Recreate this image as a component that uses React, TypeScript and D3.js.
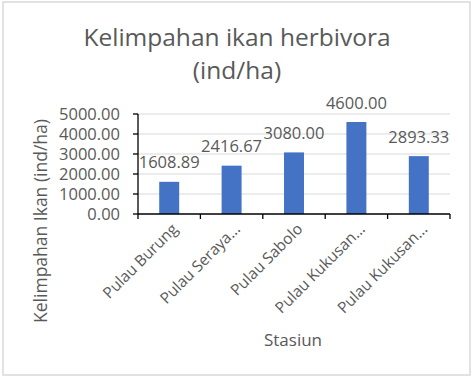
import React from "react";
import * as d3 from "d3";

const categories = ["Pulau Burung", "Pulau Seraya...", "Pulau Sabolo", "Pulau Kukusan...", "Pulau Kukusan..."];
const values = [1608.89, 2416.67, 3080.0, 4600.0, 2893.33];
const yTicks = [0, 1000, 2000, 3000, 4000, 5000];

const W = 474;
const H = 379;
const FONT = "'Open Sans', sans-serif";
const TEXT = "#595959";

export default function App() {
  const left = 138, right = 450, top = 114, bottom = 214;
  const x = d3.scaleBand<number>().domain(categories.map((_, i) => i)).range([left, right]).padding(0);
  const y = d3.scaleLinear().domain([0, 5000]).range([bottom, top]);
  const bw = x.bandwidth() * 0.32;
  const fmt = d3.format(".2f");
  const boundaries = d3.range(categories.length + 1).map((i) => left + i * x.step());

  return (
    <svg width={W} height={H} style={{ position: "absolute", left: 0, top: 0, background: "#fff" }} fontFamily={FONT}>
      <rect x={3} y={2} width={467} height={373} fill="#fff" stroke="#d9d9d9" strokeWidth={1.5} />
      <text x={237} y={46} textAnchor="middle" fontSize={24.5} fill={TEXT}>Kelimpahan ikan herbivora</text>
      <text x={237} y={79} textAnchor="middle" fontSize={24.5} fill={TEXT}>(ind/ha)</text>

      {yTicks.slice(1).map((t) => (
        <line key={"g" + t} x1={left} x2={right} y1={y(t)} y2={y(t)} stroke="#d9d9d9" strokeWidth={1} />
      ))}

      {values.map((v, i) => (
        <rect key={"b" + i} x={x(i)! + x.bandwidth() / 2 - bw / 2} y={y(v)} width={bw} height={bottom - y(v)} fill="#4472c4" />
      ))}

      <line x1={left} x2={left} y1={top} y2={bottom} stroke="#000" strokeWidth={1.3} />
      <line x1={left} x2={right} y1={bottom} y2={bottom} stroke="#000" strokeWidth={1.3} />
      {yTicks.map((t) => (
        <line key={"yt" + t} x1={left - 5} x2={left} y1={y(t)} y2={y(t)} stroke="#000" strokeWidth={1.3} />
      ))}
      {boundaries.map((b, i) => (
        <line key={"xt" + i} x1={b} x2={b} y1={bottom} y2={bottom + 5} stroke="#000" strokeWidth={1.3} />
      ))}

      {yTicks.map((t) => (
        <text key={"yl" + t} x={120} y={y(t) + 6} textAnchor="end" fontSize={16.5} fill={TEXT}>{fmt(t)}</text>
      ))}

      {values.map((v, i) => (
        <text key={"dl" + i} x={x(i)! + x.bandwidth() / 2} y={y(v) - 13.5} textAnchor="middle" fontSize={16.5} fill={TEXT}>{fmt(v)}</text>
      ))}

      {categories.map((c, i) => {
        const cx = x(i)! + x.bandwidth() / 2;
        return (
          <text key={"xl" + i} transform={`translate(${cx + 9.5},${bottom + 16}) rotate(-45)`} textAnchor="end" fontSize={15.5} fill={TEXT}>{c}</text>
        );
      })}

      <text x={293} y={346} textAnchor="middle" fontSize={17} fill={TEXT}>Stasiun</text>
      <text transform={`translate(47,221) rotate(-90)`} textAnchor="middle" fontSize={17.5} fill={TEXT}>Kelimpahan Ikan (ind/ha)</text>
    </svg>
  );
}
